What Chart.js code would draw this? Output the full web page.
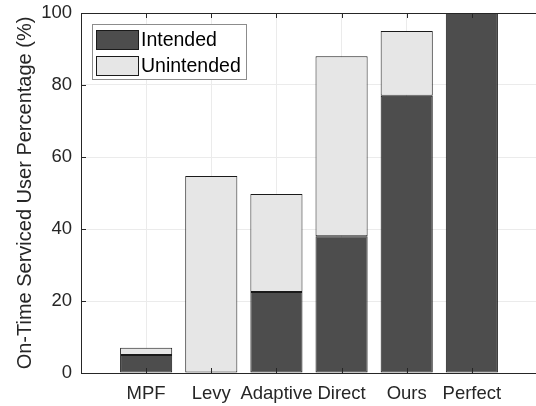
<!DOCTYPE html>
<html>
<head>
<meta charset="utf-8">
<script src="https://cdn.jsdelivr.net/npm/chart.js@4.4.0/dist/chart.umd.min.js"></script>
<style>
    html, body { margin: 0; padding: 0; overflow: hidden; background: #fff; }
    #wrap { position: relative; width: 540px; height: 406px; }
</style>
</head>
<body>
<div id="wrap"><canvas id="chartUsers"></canvas></div>
<script>
const categories = ["MPF", "Levy", "Adaptive", "Direct", "Ours", "Perfect"]
const intended = [5, 0, 22.5, 38, 77, 100]
const unintended = [2, 54.7, 27.2, 50, 18, 0]
const yTicks = [0, 20, 40, 60, 80, 100]
const seriesNames = ["Intended", "Unintended"]
const seriesColors = ["#4d4d4d", "#e6e6e6"]

const axisColor = "#262626"
const gridColor = "#ebebeb"
Chart.defaults.font.family = "'Liberation Sans', Arial, sans-serif"

// empty slot on each side so the bars sit at 1..6 on a 0..7 axis
let pad = (arr) => [null, ...arr, null]

let matlabAxes = {
    id: "matlabAxes",
    afterDraw: (chart) => {
        const ctx = chart.ctx
        const area = chart.chartArea
        const x = chart.scales.x
        const y = chart.scales.y
        const tick = 5
        ctx.save()
        ctx.strokeStyle = axisColor
        ctx.lineWidth = 1

        // top box line
        ctx.beginPath()
        ctx.moveTo(area.left, area.top + 0.5)
        ctx.lineTo(area.right, area.top + 0.5)
        ctx.stroke()

        // inward ticks
        ctx.beginPath()
        categories.forEach((c, i) => {
            let px = Math.round(x.getPixelForTick(i + 1)) + 0.5
            ctx.moveTo(px, area.bottom)
            ctx.lineTo(px, area.bottom - tick)
            ctx.moveTo(px, area.top)
            ctx.lineTo(px, area.top + tick)
        })
        yTicks.forEach(v => {
            let py = Math.round(y.getPixelForValue(v)) + 0.5
            ctx.moveTo(area.left, py)
            ctx.lineTo(area.left + tick, py)
        })
        ctx.stroke()

        // legend box
        const lx = area.left + 11
        const ly = area.top + 11
        ctx.fillStyle = "#fff"
        ctx.fillRect(lx, ly, 154, 55)
        ctx.strokeStyle = "#8c8c8c"
        ctx.strokeRect(lx + 0.5, ly + 0.5, 154, 55)
        chart.data.datasets.forEach((ds, i) => {
            let sy = ly + 6 + i * 26
            ctx.fillStyle = ds.backgroundColor
            ctx.fillRect(lx + 4, sy, 42, 19)
            ctx.strokeStyle = "#1a1a1a"
            ctx.strokeRect(lx + 4.5, sy + 0.5, 42, 19)
            ctx.fillStyle = "#000"
            ctx.font = "19.5px 'Liberation Sans', Arial, sans-serif"
            ctx.textBaseline = "middle"
            ctx.textAlign = "left"
            ctx.fillText(ds.label, lx + 49, sy + 10.5)
        })
        ctx.restore()
    }
}

let chart = new Chart(document.getElementById("chartUsers"), {
    type: "bar",
    data: {
        labels: ["", ...categories, ""],
        datasets: [intended, unintended].map((values, i) => ({
            label: seriesNames[i],
            data: pad(values),
            backgroundColor: seriesColors[i],
            borderColor: "#1a1a1a",
            borderWidth: 1,
            borderSkipped: false
        }))
    },
    options: {
        responsive: true,
        maintainAspectRatio: false,
        devicePixelRatio: 1,
        animation: false,
        layout: { autoPadding: false, padding: { left: 10, top: 13, right: 3, bottom: 0 } },
        datasets: { bar: { categoryPercentage: 1, barPercentage: 0.8 } },
        plugins: {
            legend: { display: false },
            tooltip: { enabled: false }
        },
        scales: {
            x: {
                stacked: true,
                offset: false,
                afterFit: (s) => {
                    s.height = 33
                    s.paddingLeft = 0
                    s.paddingRight = 0
                },
                grid: {
                    offset: false,
                    drawTicks: false,
                    color: (c) => (c.index === 0 || c.index === categories.length + 1) ? "rgba(0,0,0,0)" : gridColor
                },
                border: { color: axisColor, width: 1 },
                ticks: {
                    color: axisColor,
                    font: { size: 18.5 },
                    padding: 10,
                    autoSkip: false,
                    maxRotation: 0
                }
            },
            y: {
                stacked: true,
                min: 0,
                max: 100,
                afterFit: (s) => {
                    s.width = 71
                    s.paddingTop = 0
                    s.paddingBottom = 0
                },
                afterBuildTicks: (s) => { s.ticks = yTicks.map(v => ({ value: v })) },
                grid: {
                    drawTicks: false,
                    color: (c) => (c.tick.value === 0 || c.tick.value === 100) ? "rgba(0,0,0,0)" : gridColor
                },
                border: { color: axisColor, width: 1 },
                ticks: {
                    color: axisColor,
                    font: { size: 18.5 },
                    padding: 9
                },
                title: {
                    display: true,
                    text: "On-Time Serviced User Percentage (%)",
                    color: axisColor,
                    font: { size: 20 },
                    padding: { top: 3, bottom: 0 }
                }
            }
        }
    },
    plugins: [matlabAxes]
})
</script>
</body>
</html>
